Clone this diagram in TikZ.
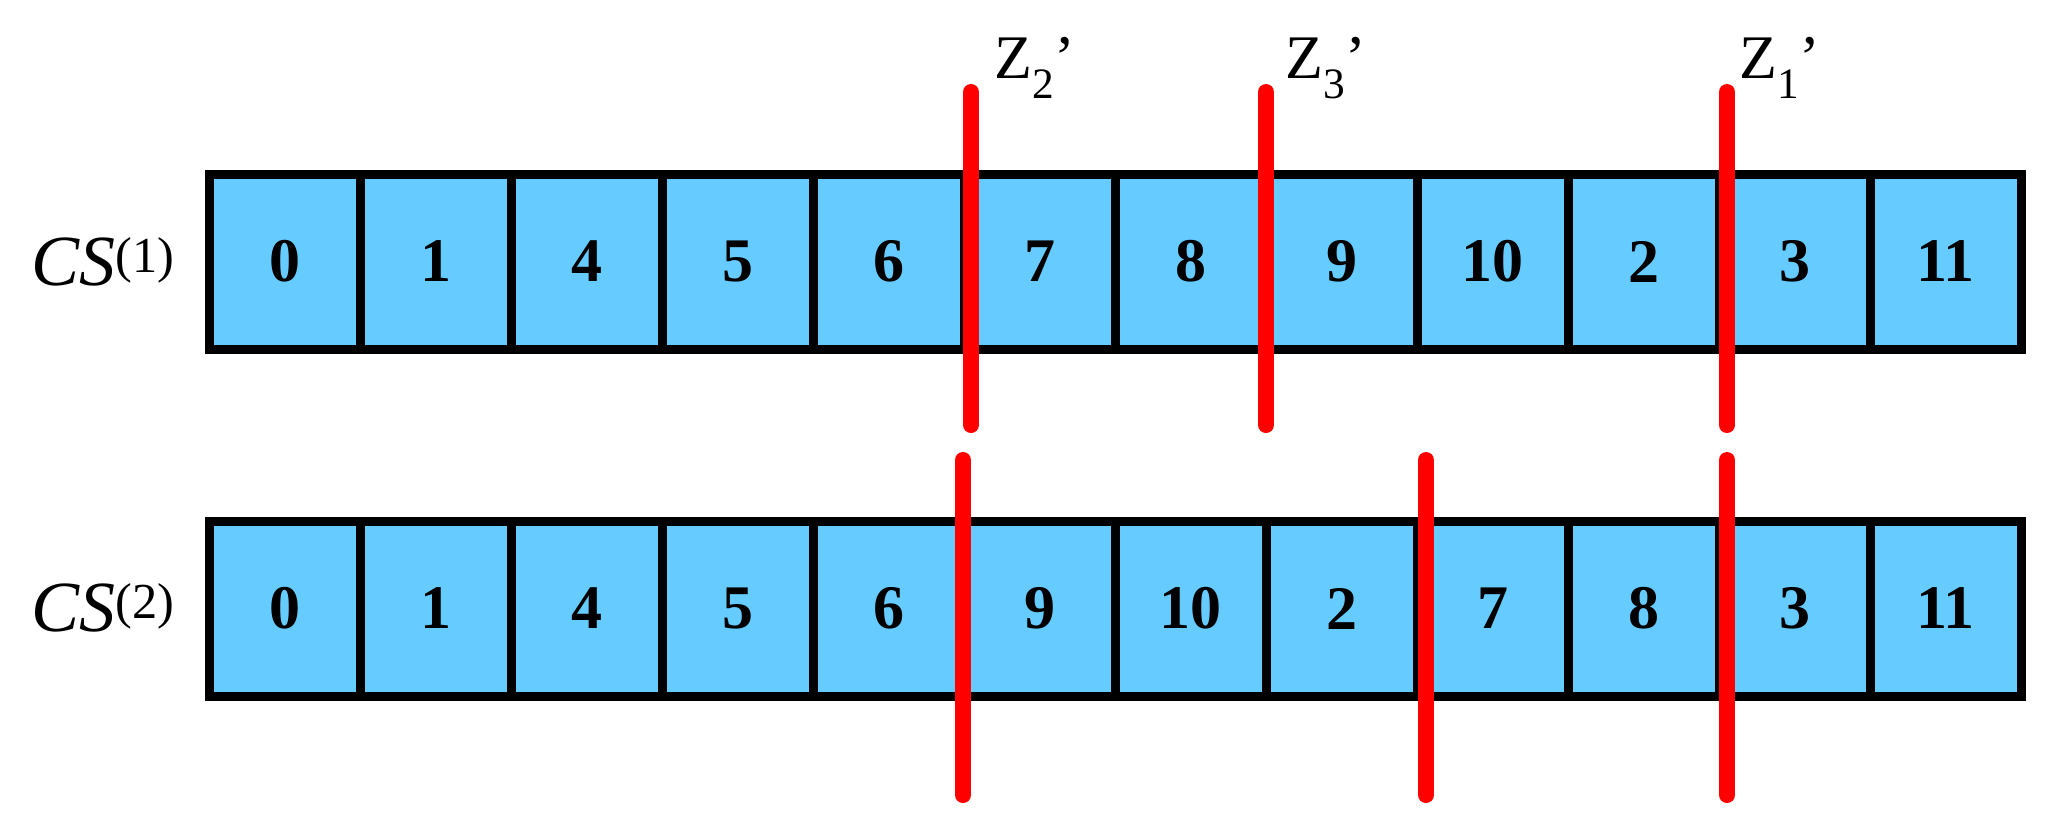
\documentclass[tikz,border=0pt]{standalone}
\usepackage{fontspec}
\setmainfont{Liberation Serif}
\begin{document}
\begin{tikzpicture}[x=1pt,y=-1pt,
  cell/.style={draw=black,line width=9pt,fill=cellblue,minimum width=151pt,minimum height=175pt,inner sep=0pt,font=\fontsize{62}{64}\selectfont\bfseries},
  cut/.style={draw=red,line width=16pt,line cap=round},
  zlab/.style={font=\fontsize{62}{64}\selectfont,anchor=base},
  cslab/.style={font=\fontsize{72}{74}\selectfont\itshape}]
\definecolor{cellblue}{HTML}{66CCFF}
\useasboundingbox (0,0) rectangle (2051,828);
\foreach \v [count=\i] in {0,1,4,5,6,7,8,9,10,2,3,11}
  \node[cell] (a\i) at ({209+151*(\i-0.5)},261.5) {\v};
\foreach \v [count=\i] in {0,1,4,5,6,9,10,2,7,8,3,11}
  \node[cell] (b\i) at ({209+151*(\i-0.5)},608.5) {\v};
\node[cslab] (cs1) at (103,262) {CS\textsuperscript{\upshape(1)}};
\node[cslab] (cs2) at (103,608) {CS\textsuperscript{\upshape(2)}};
\coordinate (t1a) at (971,92); \coordinate (t1b) at (971,425);
\coordinate (t2a) at (1266,92); \coordinate (t2b) at (1266,425);
\coordinate (t3a) at (1727,92); \coordinate (t3b) at (1727,425);
\coordinate (u1a) at (963,460); \coordinate (u1b) at (963,795);
\coordinate (u2a) at (1426,460); \coordinate (u2b) at (1426,795);
\coordinate (u3a) at (1727,460); \coordinate (u3b) at (1727,795);
\foreach \p in {t1,t2,t3,u1,u2,u3} \draw[cut] (\p a) -- (\p b);
\node[zlab] (z2) at (1035,78) {Z\textsubscript{2}'};
\node[zlab] (z3) at (1326,78) {Z\textsubscript{3}'};
\node[zlab] (z1) at (1780,78) {Z\textsubscript{1}'};
\end{tikzpicture}
\end{document}
